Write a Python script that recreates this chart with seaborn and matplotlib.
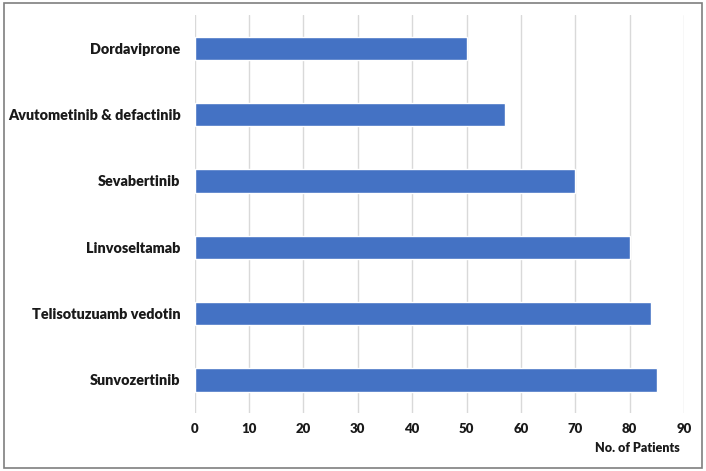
import numpy as np
import pandas as pd
import matplotlib
matplotlib.use('Agg')
import matplotlib.pyplot as plt
import seaborn as sns
from matplotlib.patches import Rectangle

drugs = ['Dordaviprone', 'Avutometinib & defactinib', 'Sevabertinib',
         'Linvoseltamab', 'Telisotuzuamb vedotin', 'Sunvozertinib']
patients = [50, 57, 70, 80, 84, 85]
xticks = list(range(0, 100, 10))

sns.set_theme(style='white')
plt.rcParams['font.family'] = ['Lato', 'DejaVu Sans']

df = pd.DataFrame({'drug': drugs, 'patients': patients})

fig = plt.figure(figsize=(7.06, 4.71), dpi=100)
ax = fig.add_axes([0.2755, 0.123, 0.6935, 0.845])

sns.barplot(data=df, x='patients', y='drug', color='#4472C4', width=0.35,
            saturation=1, ax=ax, zorder=3)

ax.set_xlim(0, 90)
ax.set_xticks(xticks)
ax.grid(axis='x', color='#d9d9d9', linewidth=1, zorder=0)
ax.set_axisbelow(True)
for s in ax.spines.values():
    s.set_visible(False)
ax.tick_params(axis='both', length=0)
ax.tick_params(axis='x', pad=7, labelsize=9.5, labelcolor='#1a1a1a')
ax.tick_params(axis='y', pad=10, labelsize=10.4, labelcolor='#1a1a1a')
for lbl in ax.get_xticklabels() + ax.get_yticklabels():
    lbl.set_fontweight('heavy')
ax.set_xlabel('')
ax.set_ylabel('')

fig.text(0.963, 0.049, 'No. of Patients', ha='right', va='center',
         fontsize=9, fontweight='heavy', color='#1a1a1a')

fig.patches.append(Rectangle((0.005, 0.006), 0.99, 0.988, transform=fig.transFigure,
                             fill=False, edgecolor='#7f7f7f', linewidth=1.2))

fig.savefig('out.png', dpi=100)
